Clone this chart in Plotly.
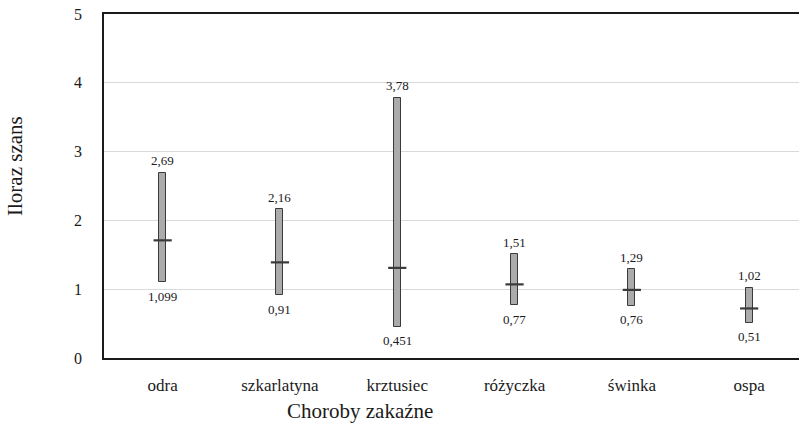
import plotly.graph_objects as go

categories = ["odra", "szkarlatyna", "krztusiec", "różyczka", "świnka", "ospa"]
low = [1.099, 0.91, 0.451, 0.77, 0.76, 0.51]
high = [2.69, 2.16, 3.78, 1.51, 1.29, 1.02]
point = [1.71, 1.39, 1.31, 1.07, 0.99, 0.72]
low_labels = ["1,099", "0,91", "0,451", "0,77", "0,76", "0,51"]
high_labels = ["2,69", "2,16", "3,78", "1,51", "1,29", "1,02"]
y_ticks = [0, 1, 2, 3, 4, 5]

xs = list(range(len(categories)))
FONT = "Liberation Serif"
TXT = "#1a1a1a"

W, H = 799, 426
L, T, B, R = 104, 14, 68, 0

fig = go.Figure()
fig.add_trace(go.Bar(
    x=xs, y=[h - l for h, l in zip(high, low)], base=low,
    width=0.06, marker=dict(color="#ababab", line=dict(color="#3a3a3a", width=1)),
    hoverinfo="skip", showlegend=False))
fig.add_trace(go.Scatter(
    x=xs, y=point, mode="markers",
    marker=dict(symbol="line-ew", size=13, line=dict(color="#3a3a3a", width=2.2)),
    hoverinfo="skip", showlegend=False))

pw, ph = W - L - R, H - T - B
ann = []
for x, h, l, hl, ll in zip(xs, high, low, high_labels, low_labels):
    ann.append(dict(x=x, y=h, text=hl, showarrow=False, yshift=12,
                    font=dict(family=FONT, size=13, color=TXT)))
    ann.append(dict(x=x, y=l, text=ll, showarrow=False, yshift=-14,
                    font=dict(family=FONT, size=13, color=TXT)))
ann.append(dict(x=(360 - L) / pw, y=-(411 - (H - B)) / ph, xref="paper", yref="paper",
                xanchor="center", yanchor="middle", text="Choroby zakaźne",
                showarrow=False, font=dict(family=FONT, size=21, color=TXT)))
ann.append(dict(x=-(L - 15) / pw, y=1 - (166 - T) / ph, xref="paper", yref="paper",
                xanchor="center", yanchor="middle", text="Iloraz szans", textangle=-90,
                showarrow=False, font=dict(family=FONT, size=21, color=TXT)))

fig.update_layout(
    width=W, height=H,
    margin=dict(l=L, r=R, t=T, b=B),
    plot_bgcolor="white", paper_bgcolor="white",
    bargap=0,
    xaxis=dict(
        range=[-0.5, 5.425], tickmode="array", tickvals=xs, ticktext=categories,
        showgrid=False, zeroline=False, showline=True, linecolor="#1a1a1a",
        linewidth=1.5,
        ticks="outside", ticklen=11, tickcolor="rgba(0,0,0,0)",
        tickfont=dict(family=FONT, size=17, color=TXT)),
    xaxis2=dict(
        overlaying="x", side="top", matches="x", showline=True, linecolor="#1a1a1a",
        linewidth=1.5, showgrid=False, zeroline=False, showticklabels=False,
        ticks=""),
    yaxis=dict(
        range=[0, 5], tickvals=y_ticks, showgrid=True, gridcolor="#d9d9d9",
        gridwidth=1, zeroline=False, showline=True, linecolor="#1a1a1a",
        linewidth=1.5, ticks="outside", ticklen=17, tickcolor="rgba(0,0,0,0)",
        tickfont=dict(family=FONT, size=16, color=TXT)),
    annotations=ann,
)
# invisible trace to activate the top axis line
fig.add_trace(go.Scatter(x=[xs[0]], y=[point[0]], xaxis="x2", mode="markers",
                         marker=dict(opacity=0), hoverinfo="skip", showlegend=False))

fig.write_html("out.html", config={"displayModeBar": False},
               post_script="document.body.style.margin='0';")
